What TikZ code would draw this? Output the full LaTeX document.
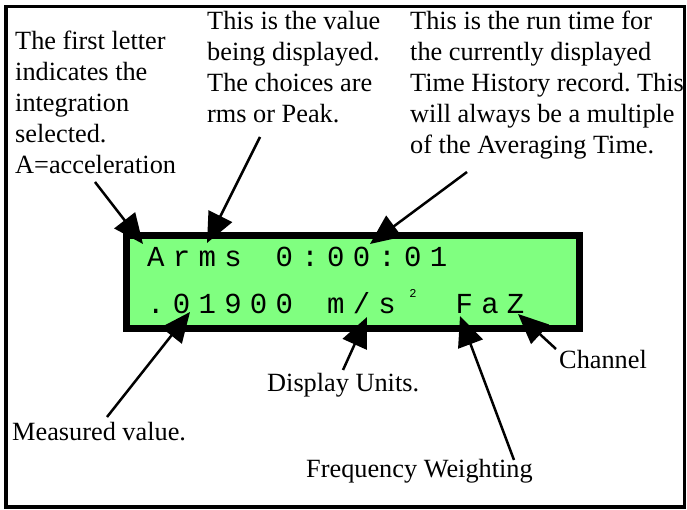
\documentclass[tikz,border=0pt]{standalone}
\usepackage{fontspec}
\setmainfont{Liberation Serif}
\newfontfamily\lcdfont{Liberation Mono}
\usetikzlibrary{arrows.meta}
\definecolor{lcdgreen}{RGB}{128,255,128}
\frenchspacing
\begin{document}
\begin{tikzpicture}[x=1pt,y=-1pt,
  note/.style={font=\fontsize{26.3}{31}\selectfont, inner sep=0pt, align=left, anchor=north west},
  single/.style={font=\fontsize{26.3}{31}\selectfont, inner sep=0pt, anchor=base west},
  lcd/.style={font=\lcdfont\fontsize{29}{29}\selectfont, inner sep=0pt, anchor=base},
  pointer/.style={line width=2.5pt, -{Triangle[length=30pt,width=26pt]}}]
\useasboundingbox (0,0) rectangle (687,510);
\draw[line width=3.5pt] (6,6.5) rectangle (684.5,507);
% LCD panel
\draw[line width=7pt, fill=lcdgreen] (126.5,235.5) rectangle (579.5,328.5);
\foreach \c [count=\i from 0] in {A,r,m,s,{},0,:,0,0,:,0,1}
  \node[lcd] (a\i) at ({143+25.7*(\i+0.5)},267) {\c};
\foreach \c [count=\i from 0] in {.,0,1,9,0,0,{},m,/,s,{},{},F,a,Z}
  \node[lcd] (b\i) at ({143+25.7*(\i+0.5)},313) {\c};
\node[lcd, font=\lcdfont\fontsize{12}{12}\selectfont] (sq) at (413,298) {2};
% labels
\node[note] (first) at (15,31.2) {The first letter\\indicates the\\integration\\selected.\\A=acceleration};
\node[note] (value) at (207,11.2) {This is the value\\being displayed.\\The choices are\\rms or Peak.};
\node[note] (runtime) at (410,11.2) {This is the run time for\\the currently displayed\\Time History record. This\\will always be a multiple\\of the Averaging Time.};
\node[single] (meas) at (12,440) {Measured value.};
\node[single] (units) at (267,391) {Display Units.};
\node[single] (freq) at (306,477) {Frequency Weighting};
\node[single] (chan) at (559,368) {Channel};
% arrow ends
\coordinate (s1) at (95,182);  \coordinate (t1) at (143,244);
\coordinate (s2) at (260,137); \coordinate (t2) at (207,243);
\coordinate (s3) at (467,172); \coordinate (t3) at (370,244);
\coordinate (s4) at (107,417); \coordinate (t4) at (190,312);
\coordinate (s5) at (343,370); \coordinate (t5) at (367,317);
\coordinate (s6) at (514,460); \coordinate (t6) at (460,316);
\coordinate (s7) at (556,349); \coordinate (t7) at (518,314);
\foreach \k in {1,...,7} \draw[pointer] (s\k) -- (t\k);
\end{tikzpicture}
\end{document}
